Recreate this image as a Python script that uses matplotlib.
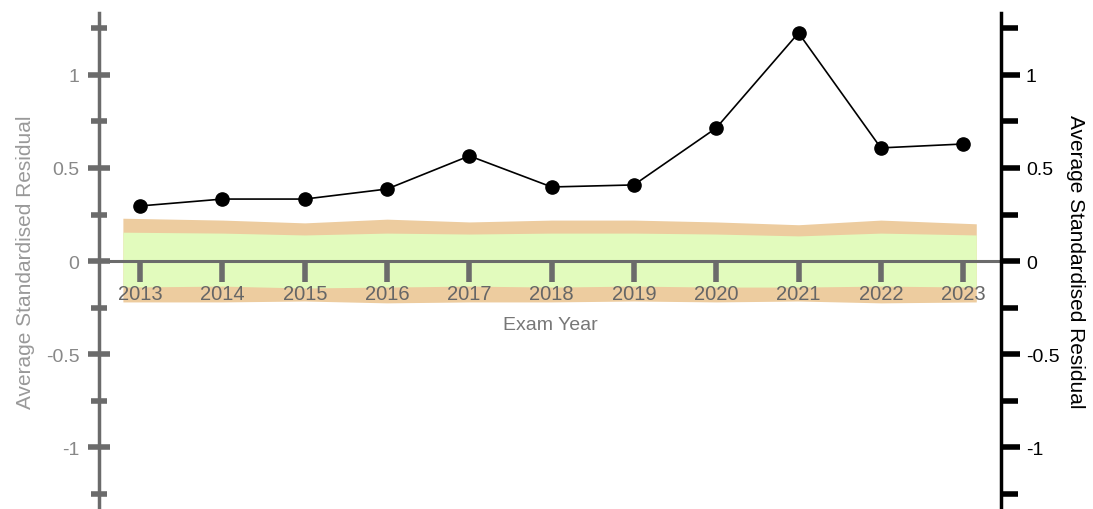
import numpy as np
import matplotlib.pyplot as plt

plt.rcParams['font.family'] = ['Liberation Sans', 'DejaVu Sans']

years = [2013, 2014, 2015, 2016, 2017, 2018, 2019, 2020, 2021, 2022, 2023]
residual = [0.296, 0.333, 0.333, 0.387, 0.565, 0.398, 0.409, 0.715, 1.226, 0.608, 0.629]

# band edges (outer = orange, inner = green)
upper_outer = [0.23, 0.22, 0.205, 0.225, 0.21, 0.22, 0.22, 0.21, 0.195, 0.22, 0.20]
upper_inner = [0.155, 0.15, 0.14, 0.15, 0.145, 0.15, 0.15, 0.145, 0.135, 0.15, 0.14]
lower_inner = [-0.14, -0.135, -0.145, -0.14, -0.135, -0.14, -0.135, -0.14, -0.14, -0.135, -0.14]
lower_outer = [-0.22, -0.22, -0.215, -0.225, -0.22, -0.22, -0.215, -0.22, -0.215, -0.225, -0.22]

ylab = 'Average Standardised Residual'

fig = plt.figure(figsize=(10.93, 5.1), dpi=100)
ax = fig.add_axes([0.0906, 0.0, 0.8252, 0.9725])

xb = np.array(years, dtype=float)
xb[0] -= 0.21
xb[-1] += 0.16
ax.fill_between(xb, lower_outer, upper_outer, color='#edcc9f', lw=0, zorder=0.5)
ax.fill_between(xb, lower_inner, upper_inner, color='#e2fbbd', lw=0, zorder=0.6)

ax.plot(years, residual, color='black', lw=1.2, marker='o', ms=9.5, zorder=5, clip_on=False)

ax.set_xlim(2012.5, 2023.46)
ax.set_ylim(-1.333, 1.333)

gray = '#6b6b6b'
ax.spines['top'].set_visible(False)
ax.spines['right'].set_visible(False)
ax.spines['bottom'].set_position(('data', 0))
ax.spines['bottom'].set_color(gray)
ax.spines['bottom'].set_linewidth(2.2)
ax.spines['left'].set_color(gray)
ax.spines['left'].set_linewidth(2.5)

ax.set_xticks(years)
ax.set_xticklabels([str(y) for y in years])
ax.tick_params(axis='x', direction='out', length=15, width=4, color=gray,
               labelcolor='#666666', labelsize=14.5, pad=1.5)

ax.set_yticks([-1, -0.5, 0, 0.5, 1])
ax.set_yticklabels(['-1', '-0.5', '0', '0.5', '1'])
ax.set_yticks([-1.25, -0.75, -0.25, 0.25, 0.75, 1.25], minor=True)
ax.tick_params(axis='y', which='major', direction='inout', length=16, width=4,
               color=gray, labelcolor='#888888', labelsize=14, pad=6)
ax.tick_params(axis='y', which='minor', direction='inout', length=12, width=4, color=gray)

ax.set_xlabel('Exam Year', color='#777777', fontsize=14)
ax.xaxis.set_label_coords(0.5, 0.39)
ax.set_ylabel(ylab, color='#999999', fontsize=15, labelpad=8)

ax2 = ax.twinx()
ax2.set_ylim(ax.get_ylim())
for s in ['top', 'left', 'bottom']:
    ax2.spines[s].set_visible(False)
ax2.spines['right'].set_color('black')
ax2.spines['right'].set_linewidth(2.5)
ax2.set_yticks([-1, -0.5, 0, 0.5, 1])
ax2.set_yticklabels(['-1', '-0.5', '0', '0.5', '1'])
ax2.set_yticks([-1.25, -0.75, -0.25, 0.25, 0.75, 1.25], minor=True)
ax2.tick_params(axis='y', which='major', direction='out', length=14, width=4,
                color='black', labelcolor='black', labelsize=14, pad=4)
ax2.tick_params(axis='y', which='minor', direction='out', length=12, width=4, color='black')
ax2.set_ylabel(ylab, color='black', fontsize=15, rotation=270, labelpad=18)

fig.savefig('out.png', dpi=100)
